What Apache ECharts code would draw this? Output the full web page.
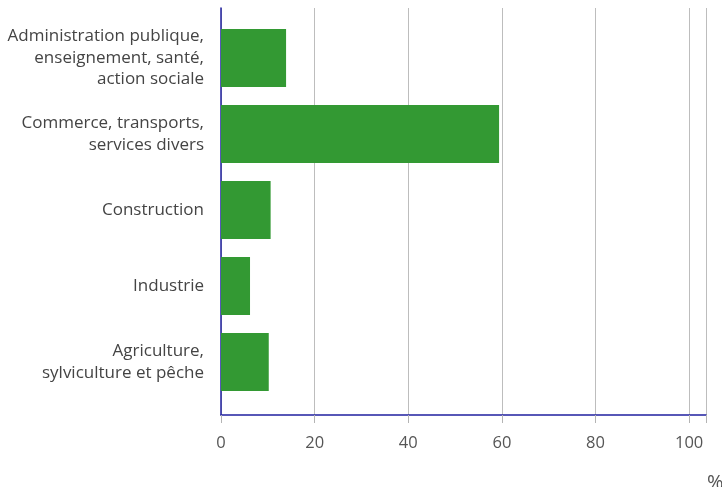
<!DOCTYPE html>
<html lang="fr">
<head>
    <meta charset="UTF-8">
    <title>Répartition par secteur</title>
    <script src="https://cdn.jsdelivr.net/npm/echarts@6/dist/echarts.min.js"></script>
    <style>
        html, body { margin: 0; padding: 0; background: #fff; }
        #fig1 { width: 722px; height: 487px; }
    </style>
</head>
<body>
    <div id="fig1"></div>
    <script>
        // secteurs, de bas en haut
        let categories = [
            'Agriculture,\nsylviculture et pêche',
            'Industrie',
            'Construction',
            'Commerce, transports,\nservices divers',
            'Administration publique,\nenseignement, santé,\naction sociale'
        ];
        let values = [10.2, 6.2, 10.6, 59.4, 13.9];
        let xTicks = [0, 20, 40, 60, 80, 100];

        let axisBlue = '#2020a0';
        let xMax = 103.6;

        let fig1 = echarts.init(document.getElementById('fig1'), null, {renderer: 'canvas'});

        let option = {
            animation: false,
            textStyle: { fontFamily: 'Open Sans' },
            grid: [
                // barres
                { left: 221, right: 16, top: 20, height: 380, outerBoundsMode: 'none', containLabel: false },
                // cadre des axes
                { left: 221, right: 16, top: 8, height: 407, outerBoundsMode: 'none', containLabel: false }
            ],
            xAxis: [
                { gridIndex: 0, type: 'value', min: 0, max: xMax, show: false },
                {
                    gridIndex: 1,
                    type: 'value',
                    min: xTicks[0],
                    max: xMax,
                    interval: xTicks[1] - xTicks[0],
                    axisLine: { show: true, lineStyle: { color: axisBlue, width: 1.5 } },
                    axisTick: { show: true, length: 8, lineStyle: { color: '#b4b4b4' } },
                    splitLine: { show: true, lineStyle: { color: '#bdbdbd', width: 1 } },
                    axisLabel: {
                        fontFamily: 'Open Sans',
                        color: '#555',
                        fontSize: 16.5,
                        margin: 20,
                        formatter: function (v) { return xTicks.indexOf(v) >= 0 ? String(v) : ''; }
                    },
                    name: '%',
                    nameLocation: 'end',
                    nameGap: 1,
                    nameTextStyle: {
                        fontFamily: 'Open Sans',
                        color: '#555',
                        fontSize: 20,
                        align: 'left',
                        verticalAlign: 'top',
                        padding: [58, 0, 0, 0]
                    }
                }
            ],
            yAxis: [
                {
                    gridIndex: 0,
                    type: 'category',
                    data: categories,
                    axisLine: { show: false },
                    axisTick: { show: false },
                    splitLine: { show: false },
                    axisLabel: {
                        fontFamily: 'Open Sans',
                        color: '#444',
                        fontSize: 17,
                        lineHeight: 21.5,
                        margin: 17,
                        align: 'right'
                    }
                },
                {
                    gridIndex: 1,
                    type: 'value',
                    min: 0,
                    max: 1,
                    axisLine: { show: true, lineStyle: { color: axisBlue, width: 1.5 } },
                    axisTick: { show: false },
                    axisLabel: { show: false },
                    splitLine: { show: false }
                }
            ],
            series: [
                {
                    type: 'bar',
                    xAxisIndex: 0,
                    yAxisIndex: 0,
                    data: values,
                    barCategoryGap: '23.7%',
                    itemStyle: { color: '#339933' }
                }
            ]
        };

        fig1.setOption(option);
    </script>
</body>
</html>
